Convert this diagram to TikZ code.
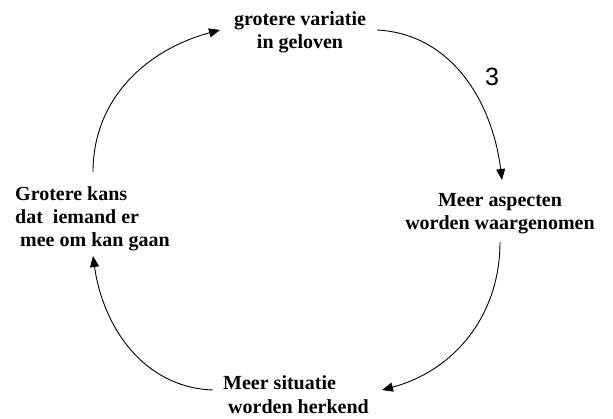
\documentclass[tikz,border=0pt]{standalone}
\usepackage{fontspec}
\setmainfont{Liberation Serif}
\newfontfamily\digitfont{Liberation Sans}
\usetikzlibrary{arrows.meta}
\begin{document}
\begin{tikzpicture}[x=1pt,y=1pt,
  cycletext/.style={font=\fontsize{20}{23.5}\selectfont\bfseries, inner sep=0pt},
  flow/.style={line width=0.9pt, -{Triangle[length=11pt,width=9pt]}}]
\useasboundingbox (0,0) rectangle (613,418);

% the four stages of the cycle (base = baseline of the last line)
\node[cycletext, align=center, anchor=base] (belief) at (300,369)
  {grotere variatie\\in geloven};
\node[cycletext, align=center, anchor=base] (aspects) at (500,188)
  {Meer aspecten\\worden waargenomen};
\node[cycletext, align=left, anchor=base west] (situation) at (223,5)
  {Meer situatie\\\ worden herkend};
\node[cycletext, align=left, anchor=base west] (chance) at (15,171)
  {Grotere kans\\dat\ \ iemand er\\\ mee om kan gaan};

% step number
\node[font=\digitfont\fontsize{25}{30}\selectfont, inner sep=0pt] (stepnum) at (492,341) {3};

% arrows running clockwise round the cycle
\draw[flow] ([shift={(77,19)}]belief.base) to[out=-3,in=97]
  ([shift={(2,50)}]aspects.base);
\draw[flow] ([shift={(0,-12)}]aspects.base) to[out=-90,in=15]
  ([shift={(159,23)}]situation.base west);
\draw[flow] ([shift={(-10,23)}]situation.base west) to[out=178,in=-82]
  ([shift={(78,-9)}]chance.base west);
\draw[flow] ([shift={(78,75)}]chance.base west) to[out=90,in=195]
  ([shift={(-80,19)}]belief.base);
\end{tikzpicture}
\end{document}
